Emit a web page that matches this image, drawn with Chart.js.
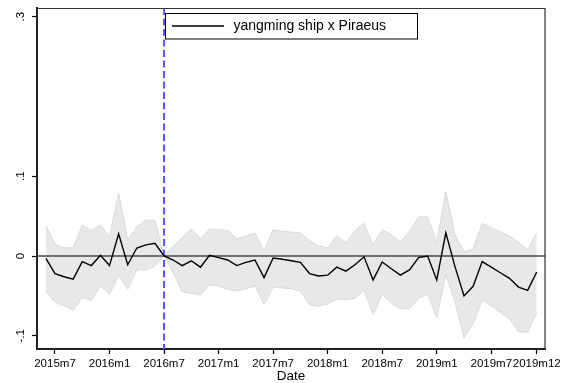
<!DOCTYPE html>
<html>
<head>
<meta charset="utf-8">
<script src="https://cdn.jsdelivr.net/npm/chart.js@4/dist/chart.umd.min.js"></script>
<style>
html,body{margin:0;padding:0;background:#fff;}
#wrap{width:568px;height:383px;position:relative;}
</style>
</head>
<body>
<div id="wrap"><canvas id="c" width="568" height="383"></canvas></div>
<script>
// ---- data ----
const months = [
 "2015m6","2015m7","2015m8","2015m9","2015m10","2015m11","2015m12",
 "2016m1","2016m2","2016m3","2016m4","2016m5","2016m6","2016m7","2016m8","2016m9","2016m10","2016m11","2016m12",
 "2017m1","2017m2","2017m3","2017m4","2017m5","2017m6","2017m7","2017m8","2017m9","2017m10","2017m11","2017m12",
 "2018m1","2018m2","2018m3","2018m4","2018m5","2018m6","2018m7","2018m8","2018m9","2018m10","2018m11","2018m12",
 "2019m1","2019m2","2019m3","2019m4","2019m5","2019m6","2019m7","2019m8","2019m9","2019m10","2019m11","2019m12"
];
const coef = [
 -0.003,-0.022,-0.026,-0.029,-0.007,-0.012,0.001,
 -0.012,0.028,-0.011,0.010,0.014,0.016,0.000,-0.005,-0.012,-0.006,-0.014,0.001,
 -0.002,-0.005,-0.012,-0.008,-0.005,-0.027,-0.0025,-0.004,-0.006,-0.008,-0.022,-0.025,
 -0.024,-0.014,-0.019,-0.011,-0.001,-0.030,-0.0075,-0.016,-0.024,-0.0175,-0.002,0.000,
 -0.030,0.029,-0.013,-0.050,-0.038,-0.007,-0.014,-0.021,-0.028,-0.039,-0.043,-0.020
];
const ciUpper = [
 0.038,0.015,0.0105,0.010,0.039,0.032,0.039,
 0.024,0.079,0.020,0.037,0.045,0.045,0.000,0.0125,0.023,0.034,0.022,0.034,
 0.033,0.032,0.022,0.025,0.029,0.007,0.033,0.031,0.030,0.029,0.019,0.0125,
 0.0105,0.025,0.017,0.032,0.041,0.014,0.033,0.027,0.017,0.031,0.049,0.049,
 0.0175,0.081,0.027,0.005,0.009,0.041,0.0355,0.0305,0.025,0.0175,0.0075,0.029
];
const ciLower = [
 -0.0445,-0.058,-0.0625,-0.068,-0.052,-0.056,-0.0375,
 -0.048,-0.024,-0.042,-0.0175,-0.0175,-0.0125,0.000,-0.021,-0.045,-0.0467,-0.049,-0.036,
 -0.0375,-0.0417,-0.0437,-0.041,-0.0375,-0.061,-0.039,-0.040,-0.041,-0.0437,-0.0617,-0.063,
 -0.060,-0.054,-0.055,-0.053,-0.0425,-0.074,-0.048,-0.059,-0.066,-0.066,-0.053,-0.048,
 -0.077,-0.023,-0.058,-0.103,-0.085,-0.055,-0.0625,-0.071,-0.079,-0.095,-0.096,-0.071
];
const xTickLabels = ["2015m7","2016m1","2016m7","2017m1","2017m7","2018m1","2018m7","2019m1","2019m7","2019m12"];
const yTickValues = [-0.1, 0, 0.1, 0.3];
const yTickLabels = ["-.1", "0", ".1", ".3"];
const treatMonth = "2016m7";
const seriesName = "yangming ship x Piraeus";
const xTitle = "Date";

// ---- helpers ----
function monthIndex(s){ const p = s.split("m"); return (parseInt(p[0])-2015)*12 + (parseInt(p[1])-7); }
const FONT = "'Liberation Sans', Arial, Helvetica, sans-serif";
const xs = months.map(monthIndex);
const toPts = arr => arr.map((v,i)=>({x: xs[i], y: v}));

const decor = {
  id: 'decor',
  beforeDatasetDraw(chart, args){
    if (args.index !== 0) return;
    const {ctx, chartArea: a, scales: {x, y}} = chart;
    ctx.save();
    // zero reference line
    const y0 = y.getPixelForValue(0);
    ctx.strokeStyle = '#4a4a4a'; ctx.lineWidth = 1.3;
    ctx.beginPath(); ctx.moveTo(a.left, y0); ctx.lineTo(a.right, y0); ctx.stroke();
    // treatment dashed line
    const xt = x.getPixelForValue(monthIndex(treatMonth));
    ctx.strokeStyle = '#5656ff'; ctx.lineWidth = 2; ctx.setLineDash([7,3.5]);
    ctx.beginPath(); ctx.moveTo(xt, a.top); ctx.lineTo(xt, a.bottom); ctx.stroke();
    ctx.restore();
  },
  afterDraw(chart){
    const {ctx, chartArea: a, scales: {y}} = chart;
    ctx.save();
    // frame (top & right)
    ctx.strokeStyle = '#333'; ctx.lineWidth = 1.2;
    ctx.beginPath(); ctx.moveTo(a.left, a.top+0.5); ctx.lineTo(a.right, a.top+0.5); ctx.lineTo(a.right, a.bottom); ctx.stroke();
    // y tick labels (rotated)
    ctx.fillStyle = '#000'; ctx.font = '11.5px ' + FONT;
    ctx.textAlign = 'center'; ctx.textBaseline = 'middle';
    yTickValues.forEach((v,i)=>{
      const py = y.getPixelForValue(v);
      ctx.save(); ctx.translate(21, py); ctx.rotate(-Math.PI/2);
      ctx.fillText(yTickLabels[i], 0, 0); ctx.restore();
    });
    // legend
    const lx = a.left + 128.5, ly = a.top + 5.5, lw = 252, lh = 25.5;
    ctx.fillStyle = '#fff'; ctx.fillRect(lx, ly, lw, lh);
    ctx.strokeStyle = '#000'; ctx.lineWidth = 1; ctx.strokeRect(lx, ly, lw, lh);
    ctx.lineWidth = 1.4; ctx.beginPath(); ctx.moveTo(lx+6.5, ly+12.5); ctx.lineTo(lx+58.5, ly+12.5); ctx.stroke();
    ctx.fillStyle = '#000'; ctx.font = '14px ' + FONT; ctx.textAlign = 'left'; ctx.textBaseline = 'middle';
    ctx.fillText(seriesName, lx+68, ly+13);
    ctx.restore();
  }
};

new Chart(document.getElementById('c'), {
  type: 'line',
  data: {
    datasets: [
      { label: seriesName, data: toPts(coef), borderColor: '#000', borderWidth: 1.4, pointRadius: 0, tension: 0, fill: false, order: 0 },
      { label: 'lower', data: toPts(ciLower), borderColor: '#dadada', borderWidth: 1, pointRadius: 0, tension: 0, fill: false, order: 2 },
      { label: 'upper', data: toPts(ciUpper), borderColor: '#dadada', borderWidth: 1, pointRadius: 0, tension: 0, fill: '-1', backgroundColor: '#e8e8e8', order: 2 }
    ]
  },
  options: {
    responsive: false, animation: false, devicePixelRatio: 1,
    layout: { padding: { left: 0, right: 23, top: 8, bottom: 0 } },
    plugins: { legend: { display: false }, tooltip: { enabled: false }, filler: { propagate: false } },
    scales: {
      x: {
        type: 'linear', min: -1.98, max: 53.91,
        afterBuildTicks: s => { s.ticks = xTickLabels.map(l => ({ value: monthIndex(l) })); },
        afterFit: s => { s.height = 34; },
        ticks: {
          autoSkip: false, maxRotation: 0, minRotation: 0, padding: 3,
          color: '#000', font: { family: FONT, size: 11.5 },
          callback: v => xTickLabels.find(l => monthIndex(l) === v) || ''
        },
        grid: { drawOnChartArea: false, drawTicks: true, tickLength: 5, tickColor: '#000', tickWidth: 1.2 },
        border: { display: true, color: '#222', width: 2 },
        title: { display: true, text: xTitle, color: '#000', font: { family: FONT, size: 13.5, lineHeight: 1 }, padding: { top: 0, bottom: 0 } }
      },
      y: {
        type: 'linear', min: -0.1166, max: 0.311,
        afterBuildTicks: s => { s.ticks = yTickValues.map(v => ({ value: v })); },
        afterFit: s => { s.width = 37; },
        ticks: { display: false },
        grid: { drawOnChartArea: false, drawTicks: true, tickLength: 5, tickColor: '#000', tickWidth: 1.2 },
        border: { display: true, color: '#222', width: 2 }
      }
    }
  },
  plugins: [decor]
});
</script>
</body>
</html>
